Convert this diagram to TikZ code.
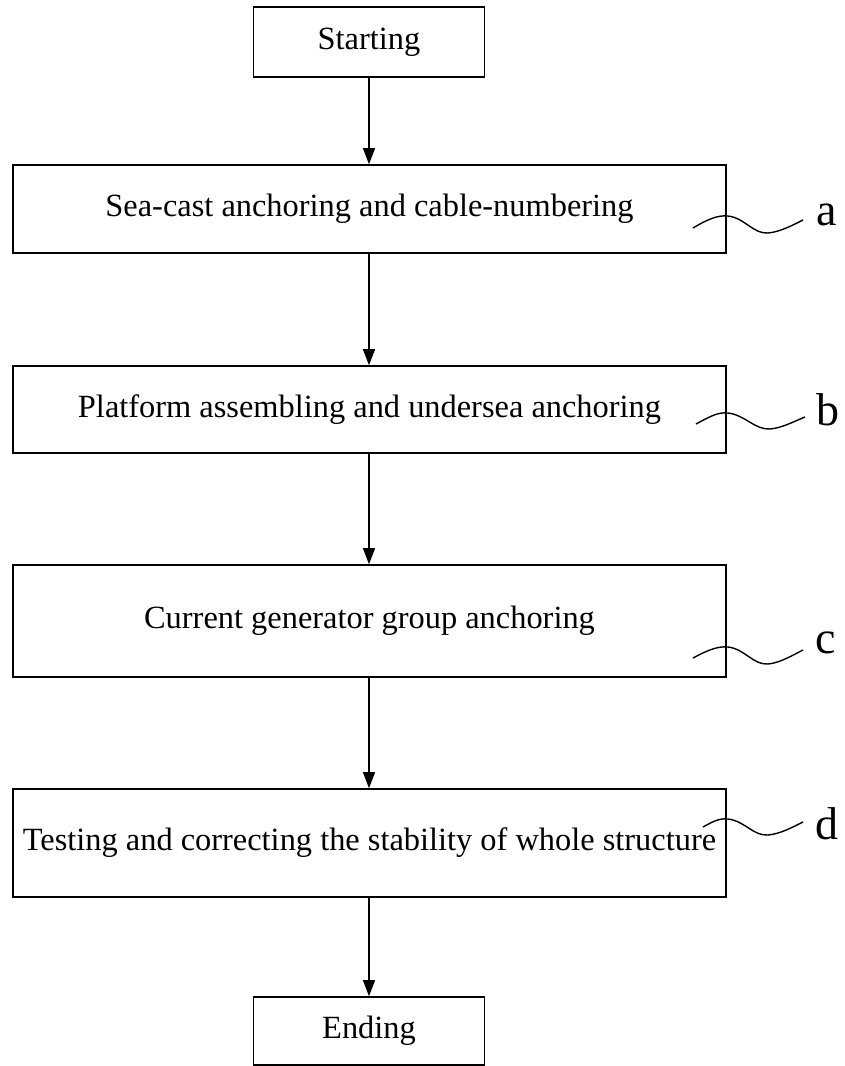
\documentclass[tikz,border=0pt]{standalone}
\usepackage{fontspec}
\setmainfont{Liberation Serif}
\usetikzlibrary{arrows.meta}
\begin{document}
\begin{tikzpicture}[x=1pt,y=-1pt,
  box/.style={draw,line width=1.6pt,inner sep=0pt,font=\fontsize{32.4}{38}\selectfont},
  flow/.style={line width=1.4pt,-{Triangle[width=12pt,length=16pt]}},
  lead/.style={line width=1.4pt},
  tag/.style={inner sep=0pt,font=\fontsize{46}{52}\selectfont}]
\useasboundingbox (0,0) rectangle (844,1066);
\node[box,minimum width=231pt,minimum height=70pt] (s) at (369,42) {Starting};
\node[box,minimum width=713pt,minimum height=88pt] (a) at (369.5,209) {Sea-cast anchoring and cable-numbering};
\node[box,minimum width=713pt,minimum height=87pt] (b) at (369.5,409.5) {Platform assembling and undersea anchoring};
\node[box,minimum width=713pt,minimum height=112pt] (c) at (369.5,621) {Current generator group anchoring};
\node[box,minimum width=713pt,minimum height=108pt] (d) at (369.5,843) {Testing and correcting the stability of whole structure};
\node[box,minimum width=231pt,minimum height=68pt] (e) at (369,1031) {Ending};
\draw[flow] (s) -- (s|-a.north);
\draw[flow] (s|-a.south) -- (s|-b.north);
\draw[flow] (s|-b.south) -- (s|-c.north);
\draw[flow] (s|-c.south) -- (s|-d.north);
\draw[flow] (s|-d.south) -- (e);
\node[tag] (la) at (827,215) {a};
\node[tag] (lb) at (828,410) {b};
\node[tag] (lc) at (826,643) {c};
\node[tag] (ld) at (827,824) {d};
\coordinate (pa) at (693,228);
\coordinate (pb) at (696,424);
\coordinate (pc) at (693,658);
\coordinate (pd) at (703,827);
\draw[lead] (pa) .. controls (708,219) and (718,215) .. (728,216) .. controls (745,218) and (753,234) .. (768,233) .. controls (780,232) and (793,225) .. (803,220);
\draw[lead] (pb) .. controls (711,416) and (718,412) .. (728,413) .. controls (745,415) and (755,430) .. (770,429) .. controls (782,428) and (795,421) .. (805,417);
\draw[lead] (pc) .. controls (708,650) and (718,646) .. (728,647) .. controls (745,649) and (753,665) .. (768,664) .. controls (780,663) and (793,655) .. (803,650);
\draw[lead] (pd) .. controls (712,822) and (719,818) .. (728,819) .. controls (745,821) and (753,836) .. (768,835) .. controls (780,834) and (793,827) .. (803,822);
\end{tikzpicture}
\end{document}
